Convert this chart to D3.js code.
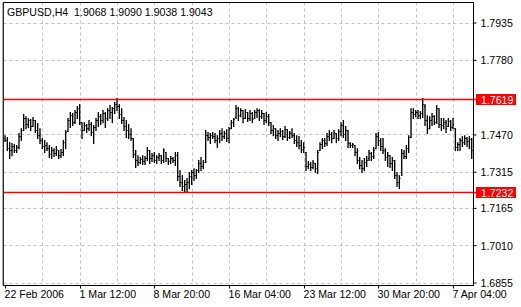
<!DOCTYPE html>
<html><head><meta charset="utf-8">
<script src="https://cdn.jsdelivr.net/npm/d3@7"></script>
<style>
html,body{margin:0;padding:0;background:#fff;}
svg{display:block;}
text{font-family:"Liberation Sans",Arial,sans-serif;font-size:10.6px;fill:#000;}
</style></head>
<body>
<svg id="c" width="521" height="307"></svg>
<script>
const title = "GBPUSD,H4  1.9068 1.9090 1.9038 1.9043";
const highs = [
1.7465,1.7457,1.7436,1.7432,1.7428,1.7424,1.7474,1.7494,1.7553,1.7544,
1.7536,1.7532,1.7540,1.7528,1.7515,1.7494,1.7453,1.7445,1.7436,1.7424,
1.7416,1.7411,1.7420,1.7403,1.7407,1.7445,1.7486,1.7536,1.7561,1.7557,
1.7569,1.7586,1.7594,1.7519,1.7519,1.7511,1.7528,1.7519,1.7507,1.7536,
1.7561,1.7553,1.7569,1.7561,1.7577,1.7590,1.7582,1.7603,1.7619,1.7594,
1.7577,1.7540,1.7528,1.7511,1.7494,1.7453,1.7403,1.7382,1.7374,1.7382,
1.7378,1.7416,1.7403,1.7391,1.7395,1.7382,1.7391,1.7382,1.7411,1.7395,
1.7370,1.7378,1.7374,1.7395,1.7395,1.7320,1.7299,1.7279,1.7287,1.7312,
1.7320,1.7328,1.7324,1.7362,1.7374,1.7362,1.7486,1.7478,1.7474,1.7478,
1.7474,1.7465,1.7486,1.7494,1.7482,1.7490,1.7499,1.7528,1.7536,1.7590,
1.7582,1.7577,1.7569,1.7573,1.7561,1.7569,1.7561,1.7569,1.7577,1.7573,
1.7569,1.7557,1.7561,1.7553,1.7519,1.7507,1.7494,1.7486,1.7494,1.7486,
1.7503,1.7490,1.7482,1.7494,1.7474,1.7465,1.7461,1.7445,1.7436,1.7395,
1.7358,1.7353,1.7362,1.7349,1.7403,1.7436,1.7453,1.7453,1.7474,1.7486,
1.7478,1.7486,1.7474,1.7490,1.7519,1.7528,1.7503,1.7486,1.7436,1.7432,
1.7424,1.7411,1.7374,1.7362,1.7370,1.7378,1.7403,1.7395,1.7416,1.7474,
1.7478,1.7453,1.7453,1.7411,1.7395,1.7382,1.7374,1.7362,1.7312,1.7299,
1.7407,1.7403,1.7424,1.7465,1.7577,1.7577,1.7569,1.7569,1.7565,1.7619,
1.7594,1.7548,1.7544,1.7557,1.7548,1.7590,1.7577,1.7536,1.7536,1.7528,
1.7536,1.7528,1.7536,1.7494,1.7436,1.7453,1.7461,1.7465,1.7457,1.7461,
1.7453];
const lows = [
1.7441,1.7403,1.7370,1.7382,1.7395,1.7395,1.7411,1.7445,1.7486,1.7494,
1.7499,1.7486,1.7503,1.7478,1.7453,1.7432,1.7411,1.7395,1.7403,1.7374,
1.7370,1.7378,1.7382,1.7370,1.7374,1.7382,1.7411,1.7482,1.7499,1.7507,
1.7515,1.7536,1.7511,1.7453,1.7486,1.7478,1.7486,1.7465,1.7432,1.7486,
1.7503,1.7511,1.7519,1.7499,1.7528,1.7536,1.7519,1.7557,1.7569,1.7536,
1.7515,1.7486,1.7457,1.7453,1.7445,1.7374,1.7333,1.7341,1.7349,1.7345,
1.7345,1.7362,1.7349,1.7358,1.7353,1.7349,1.7362,1.7349,1.7353,1.7358,
1.7345,1.7349,1.7353,1.7341,1.7279,1.7254,1.7237,1.7232,1.7232,1.7245,
1.7262,1.7279,1.7287,1.7312,1.7320,1.7328,1.7353,1.7445,1.7432,1.7453,
1.7436,1.7416,1.7436,1.7445,1.7453,1.7441,1.7436,1.7494,1.7503,1.7536,
1.7528,1.7544,1.7519,1.7536,1.7524,1.7528,1.7519,1.7536,1.7540,1.7528,
1.7536,1.7511,1.7519,1.7507,1.7474,1.7465,1.7453,1.7445,1.7461,1.7449,
1.7457,1.7445,1.7453,1.7457,1.7432,1.7420,1.7411,1.7395,1.7395,1.7320,
1.7328,1.7320,1.7328,1.7312,1.7308,1.7403,1.7411,1.7420,1.7424,1.7445,
1.7436,1.7453,1.7436,1.7445,1.7465,1.7457,1.7445,1.7416,1.7416,1.7416,
1.7382,1.7349,1.7328,1.7312,1.7320,1.7337,1.7362,1.7362,1.7370,1.7411,
1.7424,1.7403,1.7391,1.7362,1.7337,1.7333,1.7320,1.7287,1.7254,1.7245,
1.7299,1.7370,1.7370,1.7395,1.7457,1.7536,1.7544,1.7536,1.7536,1.7540,
1.7507,1.7474,1.7494,1.7507,1.7511,1.7515,1.7499,1.7486,1.7494,1.7478,
1.7503,1.7486,1.7494,1.7403,1.7403,1.7403,1.7420,1.7428,1.7420,1.7411,
1.7370];
const opens = [
1.7453,1.7445,1.7411,1.7403,1.7420,1.7403,1.7416,1.7461,1.7486,1.7536,
1.7511,1.7528,1.7503,1.7528,1.7486,1.7465,1.7445,1.7420,1.7424,1.7411,
1.7387,1.7403,1.7391,1.7403,1.7382,1.7395,1.7436,1.7482,1.7528,1.7548,
1.7519,1.7561,1.7577,1.7519,1.7486,1.7507,1.7494,1.7511,1.7478,1.7499,
1.7528,1.7544,1.7528,1.7557,1.7536,1.7569,1.7561,1.7577,1.7594,1.7586,
1.7553,1.7528,1.7503,1.7486,1.7470,1.7453,1.7387,1.7362,1.7353,1.7366,
1.7358,1.7370,1.7403,1.7370,1.7382,1.7362,1.7374,1.7382,1.7362,1.7395,
1.7370,1.7358,1.7370,1.7362,1.7382,1.7295,1.7270,1.7254,1.7262,1.7270,
1.7295,1.7312,1.7299,1.7320,1.7349,1.7337,1.7353,1.7465,1.7457,1.7465,
1.7461,1.7445,1.7453,1.7474,1.7461,1.7474,1.7453,1.7494,1.7519,1.7540,
1.7577,1.7548,1.7569,1.7536,1.7561,1.7536,1.7557,1.7536,1.7561,1.7569,
1.7544,1.7557,1.7528,1.7544,1.7519,1.7486,1.7494,1.7465,1.7474,1.7482,
1.7461,1.7490,1.7457,1.7474,1.7465,1.7445,1.7436,1.7424,1.7407,1.7395,
1.7337,1.7345,1.7333,1.7349,1.7328,1.7403,1.7428,1.7445,1.7432,1.7461,
1.7470,1.7453,1.7474,1.7453,1.7482,1.7507,1.7470,1.7486,1.7432,1.7424,
1.7424,1.7395,1.7362,1.7341,1.7328,1.7353,1.7370,1.7391,1.7378,1.7411,
1.7461,1.7445,1.7420,1.7403,1.7374,1.7382,1.7349,1.7362,1.7299,1.7270,
1.7312,1.7391,1.7378,1.7411,1.7457,1.7561,1.7553,1.7561,1.7548,1.7557,
1.7586,1.7528,1.7494,1.7528,1.7544,1.7519,1.7577,1.7511,1.7507,1.7519,
1.7503,1.7524,1.7499,1.7494,1.7416,1.7428,1.7445,1.7436,1.7453,1.7441,
1.7449];
const closes = [
1.7445,1.7411,1.7403,1.7420,1.7403,1.7416,1.7461,1.7486,1.7536,1.7511,
1.7528,1.7503,1.7528,1.7486,1.7465,1.7445,1.7420,1.7424,1.7411,1.7387,
1.7403,1.7391,1.7407,1.7382,1.7395,1.7436,1.7478,1.7528,1.7548,1.7519,
1.7561,1.7577,1.7519,1.7486,1.7507,1.7494,1.7511,1.7478,1.7499,1.7528,
1.7544,1.7528,1.7557,1.7536,1.7569,1.7561,1.7577,1.7594,1.7586,1.7553,
1.7528,1.7503,1.7486,1.7470,1.7453,1.7387,1.7362,1.7353,1.7366,1.7358,
1.7370,1.7403,1.7370,1.7382,1.7362,1.7374,1.7382,1.7362,1.7403,1.7370,
1.7358,1.7370,1.7362,1.7382,1.7295,1.7270,1.7254,1.7262,1.7270,1.7295,
1.7312,1.7299,1.7320,1.7349,1.7337,1.7353,1.7465,1.7457,1.7465,1.7461,
1.7445,1.7453,1.7474,1.7461,1.7474,1.7453,1.7494,1.7519,1.7532,1.7577,
1.7548,1.7569,1.7536,1.7561,1.7536,1.7557,1.7532,1.7561,1.7569,1.7544,
1.7557,1.7528,1.7544,1.7519,1.7486,1.7494,1.7465,1.7474,1.7482,1.7461,
1.7490,1.7457,1.7474,1.7465,1.7445,1.7436,1.7424,1.7407,1.7416,1.7337,
1.7345,1.7333,1.7353,1.7328,1.7395,1.7428,1.7445,1.7432,1.7461,1.7470,
1.7453,1.7478,1.7453,1.7482,1.7507,1.7470,1.7486,1.7432,1.7424,1.7428,
1.7395,1.7362,1.7341,1.7328,1.7353,1.7362,1.7391,1.7378,1.7403,1.7461,
1.7445,1.7420,1.7403,1.7374,1.7382,1.7349,1.7362,1.7299,1.7270,1.7287,
1.7391,1.7378,1.7411,1.7457,1.7561,1.7553,1.7561,1.7548,1.7557,1.7594,
1.7528,1.7494,1.7528,1.7544,1.7519,1.7577,1.7511,1.7507,1.7519,1.7494,
1.7524,1.7499,1.7511,1.7416,1.7428,1.7445,1.7436,1.7453,1.7441,1.7449,
1.7403];
const timeLabels = ["22 Feb 2006","1 Mar 12:00","8 Mar 20:00","16 Mar 04:00","23 Mar 12:00","30 Mar 20:00","7 Apr 04:00"];
const priceTicks = [1.7935,1.7780,1.7470,1.7315,1.7165,1.7010,1.6855];
const levels = [1.7619,1.7232];

const L = 3.5, R = 473.5, T = 2.5, B = 285.5;
const svg = d3.select("#c");
const n = highs.length;
const x = d3.scaleLinear().domain([0, n - 1]).range([5, 471.7]);
const y = d3.scaleLinear().domain([1.6855, 1.7935]).range([282.5, 22.5]);

const gridStep = 16, labelStep = 32;
// vertical grid
const gridIdx = d3.range(gridStep, n, gridStep);
svg.append("g").selectAll("line").data(gridIdx).join("line")
  .attr("x1", d => Math.round(x(d)) + 0.5).attr("x2", d => Math.round(x(d)) + 0.5)
  .attr("y1", T).attr("y2", B)
  .attr("stroke", "#c0c0c0").attr("stroke-dasharray", "3,3");
// horizontal grid
svg.append("g").selectAll("line").data(priceTicks).join("line")
  .attr("x1", L).attr("x2", R)
  .attr("y1", d => Math.round(y(d)) + 0.5).attr("y2", d => Math.round(y(d)) + 0.5)
  .attr("stroke", "#c0c0c0").attr("stroke-dasharray", "3,3");

// bars
const bars = svg.append("g").attr("stroke", "#000");
d3.range(n).forEach(i => {
  const xi = x(i);
  bars.append("line").attr("stroke-width", 1.35).attr("x1", xi).attr("x2", xi).attr("y1", y(highs[i]) - 0.5).attr("y2", y(lows[i]) + 0.5);
  bars.append("line").attr("stroke-width", 1).attr("x1", xi - 1.1).attr("x2", xi).attr("y1", y(opens[i])).attr("y2", y(opens[i]));
  bars.append("line").attr("stroke-width", 1).attr("x1", xi).attr("x2", xi + 1.1).attr("y1", y(closes[i])).attr("y2", y(closes[i]));
});

// red levels
svg.append("g").selectAll("line").data(levels).join("line")
  .attr("x1", L).attr("x2", 477)
  .attr("y1", d => Math.round(y(d)) + 0.5).attr("y2", d => Math.round(y(d)) + 0.5)
  .attr("stroke", "#ff0000").attr("stroke-width", 1.4);

// frame
svg.append("rect").attr("x", L).attr("y", T).attr("width", R - L).attr("height", B - T)
  .attr("fill", "none").attr("stroke", "#000").attr("stroke-width", 1);
svg.append("line").attr("x1", L - 0.5).attr("x2", L - 0.5).attr("y1", T).attr("y2", B)
  .attr("stroke", "#555").attr("stroke-width", 1);

// right axis
const yAxis = d3.axisRight(y).tickValues(priceTicks).tickSize(3).tickPadding(4).tickFormat(d3.format(".4f"));
const gy = svg.append("g").attr("transform", `translate(${R},0)`).call(yAxis);
gy.select(".domain").remove();
gy.selectAll(".tick line").attr("stroke", "#000");
gy.selectAll(".tick text").attr("font-family", null).attr("font-size", null).attr("fill", "#000").attr("dy", "0.36em");

// bottom axis
const xAxis = d3.axisBottom(x).tickValues(d3.range(0, n, labelStep)).tickSize(3).tickPadding(2)
  .tickFormat((d, i) => timeLabels[i]);
const gx = svg.append("g").attr("transform", `translate(0,${B})`).call(xAxis);
gx.select(".domain").remove();
gx.selectAll(".tick line").attr("stroke", "#000");
gx.selectAll(".tick text").attr("font-family", null).attr("font-size", null).attr("fill", "#000")
  .attr("text-anchor", "start").attr("x", -1).attr("dy", "0.71em");
gx.selectAll(".tick").attr("transform", d => `translate(${Math.round(x(d)) + 0.5},0)`);

// level labels
const lg = svg.append("g").selectAll("g").data(levels).join("g")
  .attr("transform", d => `translate(476,${Math.round(y(d)) + 0.5})`);
lg.append("rect").attr("x", 0).attr("y", -5.5).attr("width", 40).attr("height", 11).attr("fill", "#ff0000");
lg.append("text").attr("x", 5).attr("y", 4).style("fill", "#fff").text(d => d3.format(".4f")(d));

// title
svg.append("text").attr("x", 7).attr("y", 16).style("white-space", "pre").text(title);
</script>
</body></html>
